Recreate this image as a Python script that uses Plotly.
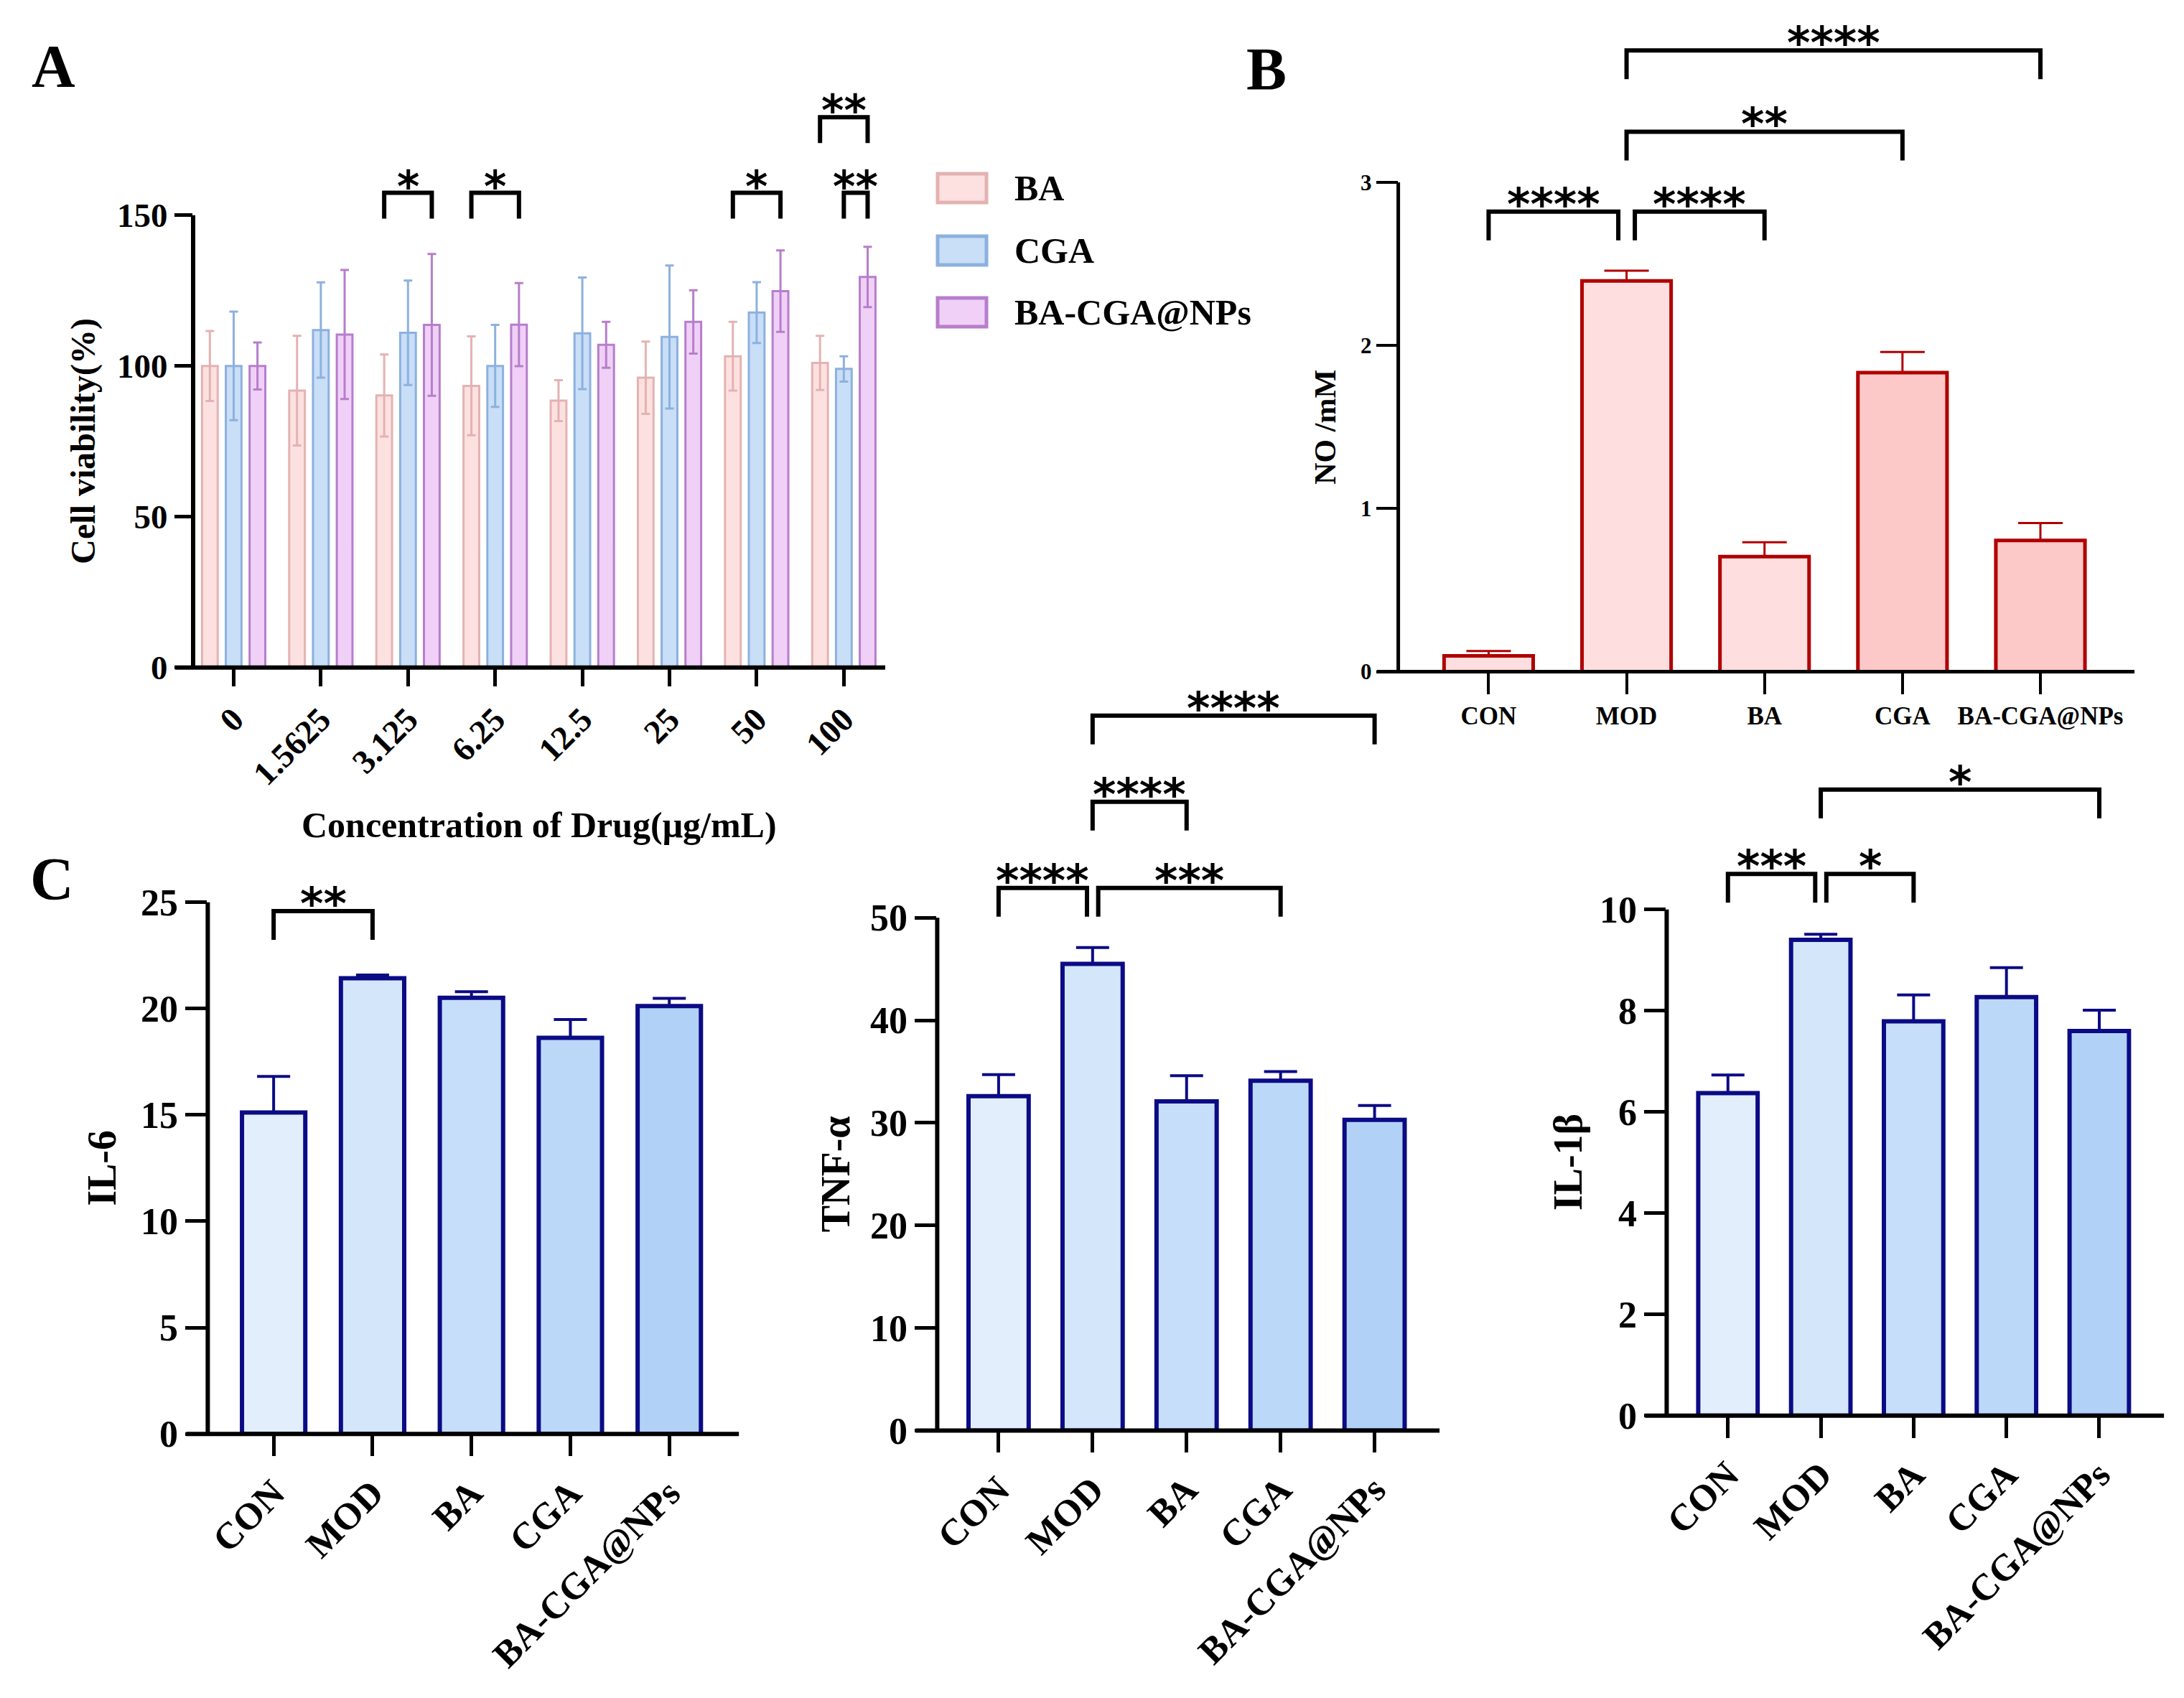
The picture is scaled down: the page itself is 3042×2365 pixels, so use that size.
import plotly.graph_objects as go

W, H = 3042, 2365
SERIF = "Liberation Serif"
STAR_FONT = "DejaVu Sans"

# ---------------- panel A : cell viability ----------------
conc_labels = ["0", "1.5625", "3.125", "6.25", "12.5", "25", "50", "100"]
a_names = ["BA", "CGA", "BA-CGA@NPs"]
via_ba = [100.0, 91.8, 90.2, 93.4, 88.5, 96.1, 103.2, 101.0]
via_ba_sd = [11.6, 18.2, 13.6, 16.4, 6.8, 12.0, 11.4, 9.0]
via_cga = [100.0, 111.9, 111.0, 100.0, 110.8, 109.6, 117.7, 99.0]
via_cga_sd = [18.0, 15.8, 17.3, 13.6, 18.5, 23.7, 10.1, 4.2]
via_np = [100.0, 110.4, 113.6, 113.7, 107.0, 114.6, 124.8, 129.5]
via_np_sd = [7.8, 21.4, 23.5, 13.8, 7.6, 10.5, 13.5, 10.0]
# (concentration index, series from, series to, bracket height, label)
a_sig = [(2, 0, 2, 157.4, "*"), (3, 0, 2, 157.4, "*"), (6, 0, 2, 157.4, "*"),
         (7, 1, 2, 157.4, "**"), (7, 0, 2, 182.5, "**")]

# ---------------- panel B : NO ----------------
groups = ["CON", "MOD", "BA", "CGA", "BA-CGA@NPs"]
no_mean = [0.097, 2.396, 0.705, 1.833, 0.805]
no_sd = [0.030, 0.062, 0.088, 0.127, 0.106]
no_sig = [(0, 1, 2.82, "****"), (1, 2, 2.82, "****"), (1, 3, 3.31, "**"),
          (1, 4, 3.808, "****")]

# ---------------- panel C : cytokines ----------------
il6_mean = [15.11, 21.42, 20.50, 18.62, 20.11]
il6_sd = [1.70, 0.15, 0.29, 0.86, 0.37]
il6_sig = [(0, 1, 24.58, "**")]

tnf_mean = [32.6, 45.5, 32.1, 34.1, 30.3]
tnf_sd = [2.1, 1.6, 2.5, 0.9, 1.4]
tnf_sig = [(0, 1, 52.9, "****"), (1, 3, 52.9, "***"), (1, 2, 61.3, "****"),
           (1, 4, 69.7, "****")]

il1b_mean = [6.37, 9.40, 7.79, 8.27, 7.60]
il1b_sd = [0.36, 0.11, 0.52, 0.58, 0.41]
il1b_sig = [(0, 1, 10.70, "***"), (1, 2, 10.70, "*"), (1, 4, 12.37, "*")]

# colours
a_fill = ["#FDE1E1", "#C9DEF7", "#F0D0F7"]
a_edge = ["#E4B2B2", "#8DB1DE", "#B67ECB"]
no_fill = ["#FEDEDE", "#FEDEDE", "#FEDEDE", "#FDC8C8", "#FDC8C8"]
no_edge = "#B00000"
c_fill = ["#E2EEFC", "#D3E6FA", "#C6DEF9", "#BCD8F8", "#B2D1F7"]
c_edge = "#0B0B85"

fig = go.Figure()

# panel geometry: (x domain, y domain, x range, y range, top of drawn y axis)
panels = {
    "a": dict(n="", xd=[0.0858, 0.4027], yd=[0.6103, 0.9477], xr=[-0.465, 7.475], yr=[0, 190], top=150),
    "b": dict(n="2", xd=[0.6376, 0.9747], yd=[0.6078, 0.9921], xr=[-0.655, 4.682], yr=[0, 4.0], top=3),
    "c1": dict(n="3", xd=[0.0925, 0.3357], yd=[0.1589, 0.4721], xr=[-0.666, 4.704], yr=[0, 25], top=25),
    "c2": dict(n="4", xd=[0.4265, 0.6565], yd=[0.1609, 0.5958], xr=[-0.653, 4.691], yr=[0, 72], top=50),
    "c3": dict(n="5", xd=[0.7605, 0.9882], yd=[0.1697, 0.5572], xr=[-0.660, 4.697], yr=[0, 13], top=10),
}

# ---- A bars ----
slot, bw = 0.273, 0.18
xa = list(range(len(conc_labels)))
for k, (vals, sd) in enumerate([(via_ba, via_ba_sd), (via_cga, via_cga_sd), (via_np, via_np_sd)]):
    fig.add_trace(go.Bar(
        x=xa, y=vals, width=bw, offset=(k - 1) * slot - bw / 2,
        marker=dict(color=a_fill[k], line=dict(color=a_edge[k], width=3)),
        error_y=dict(type="data", array=sd, visible=True, color=a_edge[k], thickness=3, width=6),
        name=a_names[k], showlegend=False, xaxis="x", yaxis="y",
    ))

# ---- B bars ----
xg = list(range(len(groups)))
fig.add_trace(go.Bar(
    x=xg, y=no_mean, width=0.646,
    marker=dict(color=no_fill, line=dict(color=no_edge, width=5)),
    error_y=dict(type="data", symmetric=False, array=no_sd, arrayminus=[0] * 5,
                 color=no_edge, thickness=3, width=31),
    showlegend=False, xaxis="x2", yaxis="y2",
))

# ---- C bars ----
for key, mean, sd in [("c1", il6_mean, il6_sd), ("c2", tnf_mean, tnf_sd), ("c3", il1b_mean, il1b_sd)]:
    n = panels[key]["n"]
    fig.add_trace(go.Bar(
        x=xg, y=mean, width=0.64,
        marker=dict(color=c_fill, line=dict(color=c_edge, width=6)),
        error_y=dict(type="data", symmetric=False, array=sd, arrayminus=[0] * 5,
                     color=c_edge, thickness=4, width=23),
        showlegend=False, xaxis="x" + n, yaxis="y" + n,
    ))

shapes, annots = [], []


def add_axes(p, tickvals, ticktext, tickangle, xfont, yticks, yfont, lw, tlen):
    n = p["n"]
    common = dict(showgrid=False, zeroline=False, showline=False, ticks="outside",
                  tickcolor="black", tickwidth=lw - 1, ticklen=tlen, fixedrange=True)
    fig.layout["xaxis" + n] = dict(
        domain=p["xd"], range=p["xr"], anchor="y" + n, tickmode="array",
        tickvals=tickvals, ticktext=ticktext, tickangle=tickangle,
        tickfont=dict(family=SERIF, size=xfont, color="black", weight="bold"), **common)
    fig.layout["yaxis" + n] = dict(
        domain=p["yd"], range=p["yr"], anchor="x" + n, tickmode="array",
        tickvals=yticks, tickfont=dict(family=SERIF, size=yfont, color="black", weight="bold"),
        **common)
    xid = "x" + n
    yid = "y" + n
    ext = tlen / ((p["xd"][1] - p["xd"][0]) * W)
    # axis spines
    shapes.append(dict(type="line", xref=xid + " domain", yref=yid + " domain",
                       x0=-ext, x1=1, y0=0, y1=0, line=dict(color="black", width=lw)))
    shapes.append(dict(type="line", xref=xid + " domain", yref=yid,
                       x0=0, x1=0, y0=0, y1=p["top"], line=dict(color="black", width=lw)))


add_axes(panels["a"], xa, conc_labels, -45, 47, [0, 50, 100, 150], 47, 6, 25)
add_axes(panels["b"], xg, groups, 0, 35, [0, 1, 2, 3], 31, 5, 30)
add_axes(panels["c1"], xg, groups, -45, 52, [0, 5, 10, 15, 20, 25], 52, 6, 30)
add_axes(panels["c2"], xg, groups, -45, 52, [0, 10, 20, 30, 40, 50], 52, 6, 30)
add_axes(panels["c3"], xg, groups, -45, 52, [0, 2, 4, 6, 8, 10], 52, 6, 30)


def add_brackets(p, sig, xpos, star_size, lw, leg_px=40, nudge=0.06):
    n = p["n"]
    unit_px = (p["yd"][1] - p["yd"][0]) * H / (p["yr"][1] - p["yr"][0])
    leg = leg_px / unit_px
    for s in sig:
        x0, x1 = xpos(s, 0), xpos(s, 1)
        # brackets at the same height sharing an end step apart slightly
        for o in sig:
            if o is s or o[-2] != s[-2]:
                continue
            if xpos(o, 0) == x1:
                x1 -= nudge
            if xpos(o, 1) == x0:
                x0 += nudge
        top = s[-2]
        shapes.append(dict(
            type="path", xref="x" + n, yref="y" + n,
            path=f"M {x0},{top - leg} L {x0},{top} L {x1},{top} L {x1},{top - leg}",
            line=dict(color="black", width=lw)))
        annots.append(dict(
            x=(x0 + x1) / 2, y=top, xref="x" + n, yref="y" + n, text=s[-1],
            showarrow=False, yanchor="bottom", yshift=-28,
            font=dict(family=STAR_FONT, size=star_size, color="black", weight="bold")))


add_brackets(panels["a"], a_sig, lambda s, e: s[0] + (s[1 + e] - 1) * slot, 60, 6, leg_px=36)
simple = lambda s, e: s[e]
add_brackets(panels["b"], no_sig, simple, 62, 6)
add_brackets(panels["c1"], il6_sig, simple, 62, 6)
add_brackets(panels["c2"], tnf_sig, simple, 62, 6)
add_brackets(panels["c3"], il1b_sig, simple, 62, 6)


def text(x, y, s, size, angle=0, xref="paper", yref="paper", xanchor="center"):
    annots.append(dict(x=x, y=y, xref=xref, yref=yref, text=s, showarrow=False,
                       textangle=angle, xanchor=xanchor, yanchor="middle",
                       font=dict(family=SERIF, size=size, color="black", weight="bold")))


# panel letters
text(66 / W, 1 - 84 / H, "A", 84)
text(1756 / W, 1 - 88 / H, "B", 84)
text(64 / W, 1 - 1216 / H, "C", 84)

# axis titles
text(743 / W, 1 - 1141 / H, "Concentration of Drug(μg/mL)", 50)
text(108 / W, 75, "Cell viability(%)", 48, -90, yref="y")
text(1838 / W, 1.5, "NO /mM", 42, -90, yref="y2")
text(134 / W, 12.5, "IL-6", 56, -90, yref="y3")
text(1156 / W, 25, "TNF-α", 56, -90, yref="y4")
text(2176 / W, 5, "IL-1β", 56, -90, yref="y5")

# legend of panel A
for k, nm in enumerate(a_names):
    yc = [254, 341, 427][k]
    shapes.append(dict(type="rect", xref="paper", yref="paper",
                       x0=1298 / W, x1=1366 / W, y0=1 - (yc + 20) / H, y1=1 - (yc - 20) / H,
                       fillcolor=a_fill[k], line=dict(color=a_edge[k], width=5)))
    text(1403 / W, 1 - yc / H, nm, 50, xanchor="left")

fig.update_layout(
    width=W, height=H, margin=dict(l=0, r=0, t=0, b=0),
    template="none", barmode="overlay",
    paper_bgcolor="white", plot_bgcolor="white",
    shapes=shapes, annotations=annots, showlegend=False,
)

fig.write_html("out.html")
